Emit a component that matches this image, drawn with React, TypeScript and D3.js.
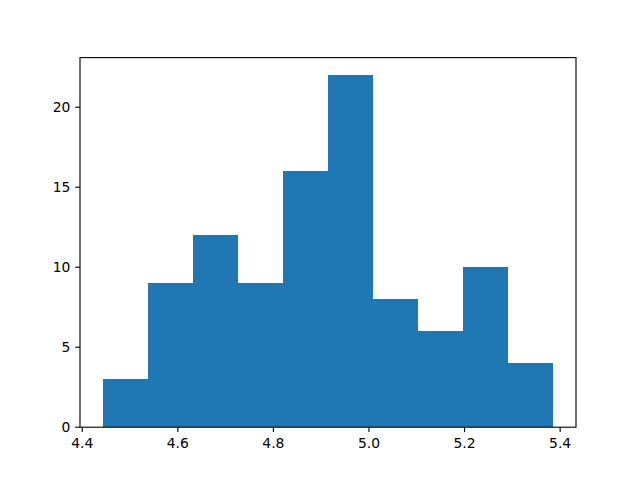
import * as d3 from 'd3'

const W = 640, H = 480
const M = { left: 80, right: 576, top: 57.6, bottom: 427.2 }

// histogram bins
const binEdges = [4.4425, 4.5369, 4.6312, 4.7256, 4.8199, 4.9143, 5.0086, 5.103, 5.1973, 5.2917, 5.386]
const counts = [3, 9, 12, 9, 16, 22, 8, 6, 10, 4]
const xTicks = [4.4, 4.6, 4.8, 5.0, 5.2, 5.4]
const yTicks = [0, 5, 10, 15, 20]

const FONT = 'DejaVu Sans, sans-serif'
const FS = 13.89
const TICK = 4.86

export default function App() {
  const lo = binEdges[0], hi = binEdges[binEdges.length - 1]
  const pad = (hi - lo) * 0.05
  const x = d3.scaleLinear().domain([lo - pad, hi + pad]).range([M.left, M.right])
  const yMax = (d3.max(counts) ?? 0) * 1.05
  const y = d3.scaleLinear().domain([0, yMax]).range([M.bottom, M.top])

  const bars = counts.map((c, i) => ({ x0: binEdges[i], x1: binEdges[i + 1], c }))

  return (
    <svg width={W} height={H} viewBox={`0 0 ${W} ${H}`}
      style={{ position: 'absolute', left: 0, top: 0, background: '#fff' }}>
      <rect x={0} y={0} width={W} height={H} fill="#fff" />
      {bars.map((b, i) => (
        <rect key={i} x={x(b.x0)} width={x(b.x1) - x(b.x0)}
          y={y(b.c)} height={y(0) - y(b.c)} fill="#1f77b4" shapeRendering="crispEdges" />
      ))}
      {/* spines */}
      <rect x={M.left} y={M.top} width={M.right - M.left} height={M.bottom - M.top}
        fill="none" stroke="#000" strokeWidth={1.11} />
      {/* x ticks */}
      {xTicks.map(t => (
        <g key={t} transform={`translate(${x(t)},${M.bottom})`}>
          <line y1={0} y2={TICK} stroke="#000" strokeWidth={1.11} />
          <text y={TICK + 4.86 + 10.6} textAnchor="middle" fontFamily={FONT} fontSize={FS} fill="#000">
            {d3.format('.1f')(t)}
          </text>
        </g>
      ))}
      {/* y ticks */}
      {yTicks.map(t => (
        <g key={t} transform={`translate(${M.left},${y(t)})`}>
          <line x1={0} x2={-TICK} stroke="#000" strokeWidth={1.11} />
          <text x={-TICK - 4.86} dy="0.36em" textAnchor="end" fontFamily={FONT} fontSize={FS} fill="#000">
            {t}
          </text>
        </g>
      ))}
    </svg>
  )
}
